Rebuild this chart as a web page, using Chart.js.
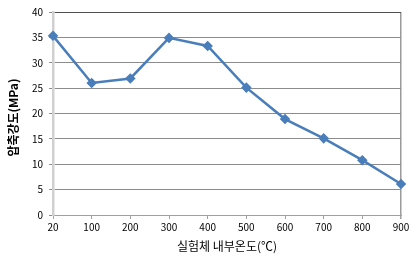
<!DOCTYPE html>
<html><head><meta charset="utf-8">
<script src="https://cdn.jsdelivr.net/npm/chart.js@4/dist/chart.umd.min.js"></script>
<style>html,body{margin:0;padding:0;background:#fff}#wrap{width:418px;height:256px}</style>
</head><body><div id="wrap"><canvas id="c" width="418" height="256"></canvas></div>
<script>
const categories = ['20','100','200','300','400','500','600','700','800','900'];
const strength = [35.3, 26.0, 26.9, 34.9, 33.3, 25.1, 18.9, 15.1, 10.8, 6.1];
const yTicks = [0,5,10,15,20,25,30,35,40];
const xTitle = '실험체 내부온도(℃)';
const yTitle = '압축강도(MPa)   ';
const FONT = "'Noto Sans CJK KR', 'Noto Sans', sans-serif";

new Chart(document.getElementById('c'), {
  type: 'line',
  data: { labels: categories, datasets: [{
    data: strength, borderColor: '#4a7ebb', backgroundColor: '#4a7ebb',
    borderWidth: 2.5, pointStyle: 'rectRot', pointRadius: 3.5, pointHoverRadius: 3.5,
    tension: 0, fill: false
  }]},
  options: {
    responsive: false, animation: false, devicePixelRatio: 1,
    layout: { padding: { top: 11, right: 17, left: 6, bottom: 0 } },
    plugins: { legend: { display: false }, tooltip: { enabled: false } },
    scales: {
      x: {
        type: 'category', offset: false,
        grid: { display: true, drawOnChartArea: true,
          color: c => c.index === categories.length - 1 ? '#9a9a9a' : 'rgba(0,0,0,0)',
          lineWidth: c => c.index === categories.length - 1 ? 1.5 : 1,
          tickColor: '#a0a0a0', tickLength: 4 },
        border: { display: true, color: '#a0a0a0', width: 1 },
        ticks: { color: '#000', font: { family: FONT, size: 10 }, maxRotation: 0, padding: 2 },
        title: { display: true, text: xTitle, color: '#000', font: { family: FONT, size: 12 }, padding: { top: 0, bottom: 2 } },
        afterFit: s => { s.height = 41; }
      },
      y: {
        min: 0, max: 40,
        afterBuildTicks: s => { s.ticks = yTicks.map(v => ({ value: v })); },
        grid: { color: c => c.tick && c.tick.value === 40 ? '#505050' : '#8c8c8c', lineWidth: 1, tickLength: 4, tickColor: '#8c8c8c' },
        border: { display: true, color: '#d0d0d0', width: 2.5 },
        ticks: { color: '#000', font: { family: FONT, size: 10 }, padding: 6 },
        title: { display: true, text: yTitle, color: '#000', font: { family: FONT, size: 12, weight: 'bold' }, padding: { top: 0, bottom: 2 } },
        afterFit: s => { s.width = 47; }
      }
    }
  }
});
</script></body></html>
